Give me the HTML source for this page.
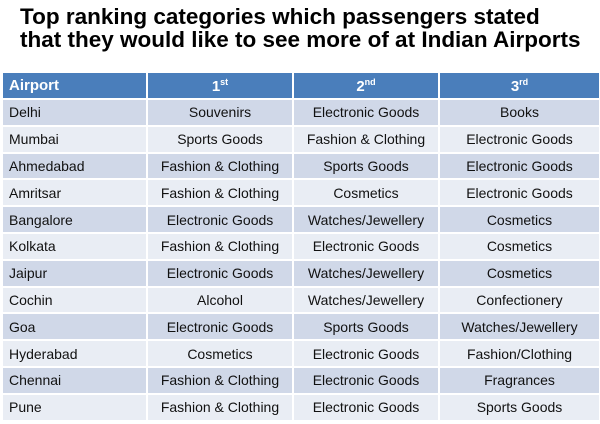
<!DOCTYPE html>
<html><head><style>
body{margin:0;width:600px;height:424px;background:#fff;overflow:hidden;font-family:"Liberation Sans",Arial,sans-serif}
.t{position:absolute;font-size:22.5px;font-weight:bold;color:#000;white-space:nowrap;line-height:24px}
table{position:absolute;left:1px;top:71px;border-collapse:collapse;width:598px;table-layout:fixed}
td,th{border:2px solid #fff;padding:0 6px;font-size:14px;color:#111;text-align:center;white-space:nowrap;overflow:hidden}
tr{height:26.8px}
th{background:#4a7ebb;color:#fff;font-weight:bold;font-size:15px}
td:first-child,th:first-child{text-align:left}
tr:nth-child(even) td{background:#d0d8e8}
tr:nth-child(odd) td{background:#e9edf4}
sup{font-size:9px}
</style></head><body>
<div class="t" style="left:20px;top:5px">Top ranking categories which passengers stated</div>
<div class="t" style="left:20px;top:28px">that they would like to see more of at Indian Airports</div>
<table>
<colgroup><col style="width:145px"><col style="width:146px"><col style="width:146px"><col style="width:161px"></colgroup>
<tr style="height:27px"><th>Airport</th><th>1<sup>st</sup></th><th>2<sup>nd</sup></th><th>3<sup>rd</sup></th></tr>
<tr><td>Delhi</td><td>Souvenirs</td><td>Electronic Goods</td><td>Books</td></tr>
<tr><td>Mumbai</td><td>Sports Goods</td><td>Fashion &amp; Clothing</td><td>Electronic Goods</td></tr>
<tr><td>Ahmedabad</td><td>Fashion &amp; Clothing</td><td>Sports Goods</td><td>Electronic Goods</td></tr>
<tr><td>Amritsar</td><td>Fashion &amp; Clothing</td><td>Cosmetics</td><td>Electronic Goods</td></tr>
<tr><td>Bangalore</td><td>Electronic Goods</td><td>Watches/Jewellery</td><td>Cosmetics</td></tr>
<tr><td>Kolkata</td><td>Fashion &amp; Clothing</td><td>Electronic Goods</td><td>Cosmetics</td></tr>
<tr><td>Jaipur</td><td>Electronic Goods</td><td>Watches/Jewellery</td><td>Cosmetics</td></tr>
<tr><td>Cochin</td><td>Alcohol</td><td>Watches/Jewellery</td><td>Confectionery</td></tr>
<tr><td>Goa</td><td>Electronic Goods</td><td>Sports Goods</td><td>Watches/Jewellery</td></tr>
<tr><td>Hyderabad</td><td>Cosmetics</td><td>Electronic Goods</td><td>Fashion/Clothing</td></tr>
<tr><td>Chennai</td><td>Fashion &amp; Clothing</td><td>Electronic Goods</td><td>Fragrances</td></tr>
<tr><td>Pune</td><td>Fashion &amp; Clothing</td><td>Electronic Goods</td><td>Sports Goods</td></tr>
</table>
</body></html>
